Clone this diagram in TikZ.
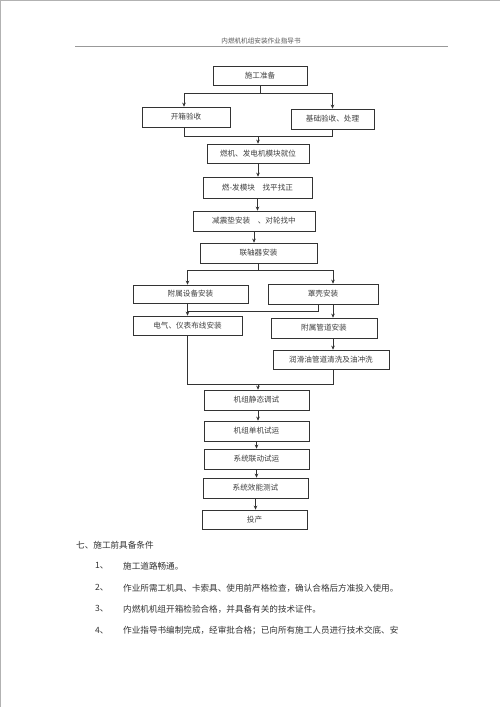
\documentclass[tikz,border=0pt]{standalone}
\usepackage{fontspec}
\setmainfont{Noto Sans CJK SC}
\usepackage{tikz}
\usetikzlibrary{arrows.meta}
\tikzset{
	box/.style={rectangle,draw=black!80,line width=0.7pt,minimum height=20pt,inner sep=1pt,font=\fontsize{7.6}{9}\selectfont,text=black!75},
	arr/.style={-{Stealth[length=4pt,width=3.6pt]},line width=0.7pt,draw=black!80},
	lnk/.style={line width=0.7pt,draw=black!80},
	para/.style={anchor=west,inner sep=0pt,font=\fontsize{8.6}{10}\selectfont,text=black!80},
}

\begin{document}
\begin{tikzpicture}[x=1pt,y=-1pt]
		\useasboundingbox (0,0) rectangle (500,707);
		\fill[white] (0,0) rectangle (500,707);
		\draw[black!30,line width=1pt] (0.5,707) -- (0.5,0.5) -- (500,0.5);
		\node[font=\fontsize{6.6}{8}\selectfont,text=black!65] (title) at (261,41) {内燃机机组安装作业指导书};
		\draw[black!40,line width=1.2pt] (75,46.5) coordinate (hl) -- (448,46.5) coordinate (hr);
		\node[box,minimum width=94pt,minimum height=19pt] (sgzb) at (260,75.5) {施工准备};
		\node[box,minimum width=88pt] (kxys) at (186,117) {开箱验收};
		\node[box,minimum width=83pt] (jcys) at (332.5,119) {基础验收、处理};
		\node[box,minimum width=102pt,minimum height=19pt] (rjjw) at (258,153.5) {燃机、发电机模块就位};
		\node[box,minimum width=109pt,minimum height=21pt] (zpzz) at (257.5,187.5) {燃-发模块\quad 找平找正};
		\node[box,minimum width=122pt] (jzd) at (254,221) {减震垫安装\quad 、对轮找中};
		\node[box,minimum width=117pt] (lzq) at (258.5,253) {联轴器安装};
		\node[box,minimum width=115pt,minimum height=18pt] (fssb) at (190.5,294) {附属设备安装};
		\node[box,minimum width=110pt] (zkaz) at (323,294) {罩壳安装};
		\node[box,minimum width=109pt,minimum height=19pt] (dqbx) at (187.5,325.5) {电气、仪表布线安装};
		\node[box,minimum width=106pt] (fsgd) at (324,328) {附属管道安装};
		\node[box,minimum width=116pt,minimum height=19pt] (rhy) at (331,359.5) {润滑油管道清洗及油冲洗};
		\node[box,minimum width=105pt] (jtjt) at (256.5,400) {机组静态调试};
		\node[box,minimum width=105pt] (djsy) at (256.5,431) {机组单机试运};
		\node[box,minimum width=105pt] (ldsy) at (256.5,459) {系统联动试运};
		\node[box,minimum width=105pt] (xnsc) at (255.5,488) {系统效能测试};
		\node[box,minimum width=105pt,minimum height=19pt] (tc) at (254.5,519.5) {投产};
		\coordinate (b1) at (0,93);
		\coordinate (m1) at (0,136);
		\coordinate (b2) at (0,270);
		\coordinate (b3) at (0,311);
		\coordinate (m2) at (0,384);
		\draw[lnk] (sgzb.south) -- (sgzb.south |- b1);
		\draw[arr] (sgzb.south |- b1) -| ([xshift=-2pt]kxys.north);
		\draw[arr] (sgzb.south |- b1) -| (jcys.north);
		\draw[lnk] ([xshift=-2pt]kxys.south) |- (jcys.south |- m1) -- (jcys.south);
		\draw[arr] (rjjw.north |- m1) -- (rjjw.north);
		\draw[arr] (rjjw.south) -- (rjjw.south |- zpzz.north);
		\draw[arr] (zpzz.south) -- (zpzz.south |- jzd.north);
		\draw[arr] (jzd.south) -- (jzd.south |- lzq.north);
		\draw[lnk] (lzq.south) -- (lzq.south |- b2);
		\draw[arr] (lzq.south |- b2) -| (dqbx.north |- fssb.north);
		\draw[arr] (lzq.south |- b2) -| ([xshift=10pt]zkaz.north);
		\draw[arr] (dqbx.north |- fssb.south) -- (dqbx.north);
		\draw[lnk] ([xshift=-5pt]zkaz.south) |- (dqbx.north |- b3);
		\draw[arr] ([xshift=10pt]zkaz.south) -- ([xshift=10pt]zkaz.south |- fsgd.north);
		\draw[arr] ([xshift=10pt]zkaz.south |- fsgd.south) -- ([xshift=10pt]zkaz.south |- rhy.north);
		\draw[lnk] (dqbx.south) |- ([xshift=10pt]zkaz.south |- m2) -- ([xshift=10pt]zkaz.south |- rhy.south);
		\draw[arr] ([xshift=1.5pt]jtjt.north |- m2) -- ([xshift=1.5pt]jtjt.north);
		\draw[arr] ([xshift=1.5pt]jtjt.south) -- ([xshift=1.5pt]jtjt.south |- djsy.north);
		\draw[arr] (djsy.south) -- (djsy.south |- ldsy.north);
		\draw[arr] (ldsy.south) -- (ldsy.south |- xnsc.north);
		\draw[arr] (xnsc.south) -- (xnsc.south |- tc.north);
		\node[para] (sec) at (76,545) {七、施工前具备条件};
		\node[para] (n1) at (95,566) {1、};
		\node[para] (t1) at (123,566) {施工道路畅通。};
		\node[para] (n2) at (95,588) {2、};
		\node[para] (t2) at (123,588) {作业所需工机具、卡索具、使用前严格检查，确认合格后方准投入使用。};
		\node[para] (n3) at (95,609) {3、};
		\node[para] (t3) at (123,609) {内燃机机组开箱检验合格，并具备有关的技术证件。};
		\node[para] (n4) at (95,631) {4、};
		\node[para] (t4) at (123,631) {作业指导书编制完成，经审批合格；已向所有施工人员进行技术交底、安};
	\end{tikzpicture}
\end{document}
